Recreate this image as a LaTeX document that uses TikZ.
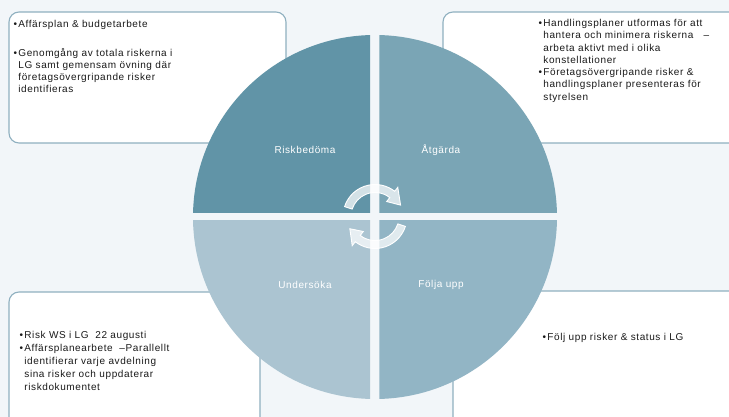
\documentclass[tikz,border=0pt]{standalone}
\usepackage{fontspec}
\setmainfont{Liberation Sans}[LetterSpace=6]
\usetikzlibrary{calc}
\definecolor{bg}{HTML}{F2F6F9}
\definecolor{boxline}{HTML}{8FB0C0}
\definecolor{qtl}{HTML}{6194A7}
\definecolor{qtr}{HTML}{7AA5B5}
\definecolor{qbl}{HTML}{ABC4D1}
\definecolor{qbr}{HTML}{92B5C5}
\definecolor{txtc}{HTML}{1A1A1A}
\tikzset{
  infobox/.style={draw=boxline, line width=1.1pt, fill=white, rounded corners=10pt},
  txt/.style={inner sep=0pt, text=txtc, font=\fontsize{10}{12.3}\selectfont, align=left},
  qlabel/.style={inner sep=0pt, text=white, font=\fontsize{10}{12}\selectfont},
  cyc/.style={fill=white, fill opacity=0.72, draw=white, line width=0.9pt, line join=miter}
}
\begin{document}
\begin{tikzpicture}[x=1pt,y=1pt]
\useasboundingbox (0,0) rectangle (729,-417);
\clip (0,0) rectangle (729,-417);
\fill[bg] (0,0) rectangle (729,-417);
% boxes
\draw[infobox] (9,-12) rectangle (286,-143);
\draw[infobox] (443,-12) rectangle (760,-143);
\draw[infobox] (9,-292) rectangle (260,-450);
\draw[infobox] (453,-291) rectangle (760,-450);
% circle quadrants
\coordinate (C) at (375,-217);
\begin{scope}
\clip (0,0) rectangle (370.2,-212.7);
\fill[qtl] (C) circle[radius=182];
\end{scope}
\begin{scope}
\clip (379.4,0) rectangle (729,-212.7);
\fill[qtr] (C) circle[radius=182];
\end{scope}
\begin{scope}
\clip (0,-220.8) rectangle (370.2,-417);
\fill[qbl] (C) circle[radius=182];
\end{scope}
\begin{scope}
\clip (379.4,-220.8) rectangle (729,-417);
\fill[qbr] (C) circle[radius=182];
\end{scope}
% quadrant labels
\node[qlabel] (rb) at (305,-150) {Riskbedöma};
\node[qlabel] (at) at (441,-150) {Åtgärda};
\node[qlabel] (us) at (305,-285) {Undersöka};
\node[qlabel] (fu) at (441,-285) {Följa upp};
% cycle arrows
\coordinate (A) at (375,-216.5);
\draw[cyc] ($(A)+(162:32)$) arc[start angle=162, end angle=52, radius=32]
  -- ($(A)+(52:37)$) -- ($(A)+(24:28)$) -- ($(A)+(52:19)$) -- ($(A)+(52:24)$)
  arc[start angle=52, end angle=162, radius=24] -- cycle;
\draw[cyc] ($(A)+(-18:32)$) arc[start angle=-18, end angle=-128, radius=32]
  -- ($(A)+(-128:37)$) -- ($(A)+(-154:28)$) -- ($(A)+(-128:19)$) -- ($(A)+(-128:24)$)
  arc[start angle=-128, end angle=-18, radius=24] -- cycle;
% texts
\node[txt, anchor=north west] (ttl) at (13.5,-18.5) {\begin{tabular}{@{}l@{\hspace{1.2pt}}l@{}}
•&Affärsplan \& budgetarbete\\[16.4pt]
•&Genomgång av totala riskerna i\\
&LG samt gemensam övning där\\
&företagsövergripande risker\\
&identifieras
\end{tabular}};
\node[txt, anchor=north west] (ttr) at (538.5,-17.6) {\begin{tabular}{@{}l@{\hspace{1.2pt}}l@{}}
•&Handlingsplaner utformas för att\\
&hantera och minimera riskerna\ \ \ –\\
&arbeta aktivt med i olika\\
&konstellationer\\
•&Företagsövergripande risker \&\\
&handlingsplaner presenteras för\\
&styrelsen
\end{tabular}};
\node[txt, anchor=north west, font=\fontsize{10}{13}\selectfont] (tbl) at (19.5,-329.4) {\begin{tabular}{@{}l@{\hspace{1.2pt}}l@{}}
•&Risk WS i LG\ \ 22 augusti\\
•&Affärsplanearbete\ \ –Parallellt\\
&identifierar varje avdelning\\
&sina risker och uppdaterar\\
&riskdokumentet
\end{tabular}};
\node[txt, anchor=north west] (tbr) at (542.5,-332) {\begin{tabular}{@{}l@{\hspace{1.2pt}}l@{}}
•&Följ upp risker \& status i LG
\end{tabular}};
\end{tikzpicture}
\end{document}
